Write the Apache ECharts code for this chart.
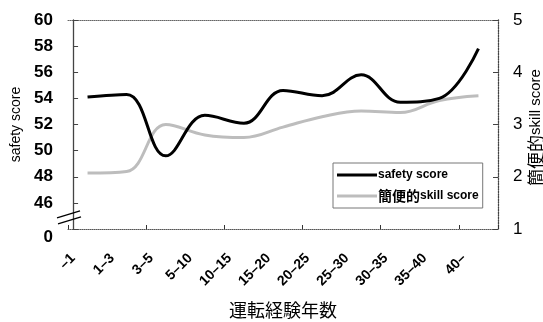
<!DOCTYPE html>
<html>
<head>
<meta charset="utf-8">
<script src="https://cdn.jsdelivr.net/npm/echarts@6/dist/echarts.min.js"></script>
<style>html,body{margin:0;padding:0;background:#fff}#c{width:543px;height:322px}</style>
</head>
<body>
<div id="c"></div>
<script>
const categories = ['–1', '1–3', '3–5', '5–10', '10–15', '15–20', '20–25', '25–30', '30–35', '35–40', '40–'];
const safetyScore = [54.1, 54.3, 49.6, 52.7, 52.1, 54.6, 54.2, 55.8, 53.7, 54.0, 57.8];
const skillScore = [2.07, 2.1, 3.0, 2.8, 2.75, 2.95, 3.15, 3.26, 3.23, 3.46, 3.55];
const leftTicks = [44, 46, 48, 50, 52, 54, 56, 58, 60];
const rightTicks = [1, 2, 3, 4, 5];
const labelPositions = categories.map((c, i) => i);

const FONT = '"Liberation Sans", Arial, "Noto Sans CJK JP", sans-serif';
const CJK = '"Noto Sans CJK JP", sans-serif';
const chart = echarts.init(document.getElementById('c'), null, {renderer: 'canvas'});
chart.setOption({
  animation: false,
  backgroundColor: '#fff',
  textStyle: {fontFamily: FONT, color: '#000'},
  grid: {left: 68, right: 45, top: 20, bottom: 93, containLabel: false, outerBoundsMode: 'none'},
  legend: {
    orient: 'vertical', left: 333, top: 163,
    backgroundColor: '#fff', borderColor: '#777', borderWidth: 1,
    padding: [6, 4, 5, 4], itemGap: 8, itemWidth: 40, itemHeight: 3, icon: 'rect',
    formatter: n => n === 'safety score' ? '{e|safety score}' : '{c|簡便的}{e|skill score}',
    textStyle: {
      fontFamily: FONT, fontSize: 12, fontWeight: 'bold', color: '#000', padding: [0, 0, 0, -4],
      rich: {
        e: {fontFamily: FONT, fontSize: 12, fontWeight: 'bold', color: '#000'},
        c: {fontFamily: CJK, fontSize: 14, fontWeight: 'bold', color: '#000'}
      }
    },
    data: ['safety score', '簡便的skill score']
  },
  xAxis: [
    {
      type: 'category', data: categories, boundaryGap: true, position: 'bottom',
      axisLine: {show: true, lineStyle: {color: '#555', type: 'dotted', width: 1}},
      axisTick: {show: true, inside: true, length: 4, alignWithLabel: false, lineStyle: {color: '#333'}},
      axisLabel: {show: false}, splitLine: {show: false}
    },
    {
      type: 'value', min: -0.13, max: 10.87, position: 'bottom',
      axisLine: {show: false}, axisTick: {show: false}, splitLine: {show: false},
      axisLabel: {
        show: true, customValues: labelPositions, rotate: 45, margin: 27,
        fontFamily: FONT, fontSize: 14, fontWeight: 'bold', color: '#000',
        formatter: v => categories[Math.round(v)] || ''
      },
      name: '運転経験年数', nameLocation: 'middle', nameGap: 72,
      nameTextStyle: {fontFamily: CJK, fontSize: 18, color: '#000'}
    },
    {
      type: 'category', data: categories, position: 'top',
      axisLine: {show: true, lineStyle: {color: '#666', type: 'dotted'}},
      axisTick: {show: false}, axisLabel: {show: false}
    }
  ],
  yAxis: [
    {
      type: 'value', min: 44, max: 60, interval: 2, position: 'left',
      axisLine: {show: true, lineStyle: {color: '#444', width: 1.3}},
      axisTick: {show: true, inside: true, length: 5, lineStyle: {color: '#444'}},
      splitLine: {show: false},
      axisLabel: {
        margin: 15, fontFamily: FONT, fontSize: 17, fontWeight: 'bold', color: '#000',
        formatter: v => v === 44 ? '{z|0}' : String(v),
        rich: {z: {fontFamily: FONT, fontSize: 17, fontWeight: 'bold', color: '#000', padding: [16, 0, 0, 0]}}
      },
      name: 'safety score', nameLocation: 'middle', nameGap: 44, nameRotate: 90,
      nameTextStyle: {fontFamily: FONT, fontSize: 14, color: '#000'}
    },
    {
      type: 'value', min: 1, max: 5, interval: 1, position: 'right',
      axisLine: {show: true, lineStyle: {color: '#444', type: 'dotted', width: 1.3}},
      axisTick: {show: true, inside: true, length: 5, lineStyle: {color: '#444'}},
      splitLine: {show: false},
      axisLabel: {margin: 15, fontFamily: FONT, fontSize: 17, color: '#000'}
    }
  ],
  series: [
    {
      name: 'safety score', type: 'line', xAxisIndex: 0, yAxisIndex: 0,
      data: safetyScore, smooth: 0.4, symbol: 'none',
      lineStyle: {color: '#000', width: 3}, itemStyle: {color: '#000'}, z: 3
    },
    {
      name: '簡便的skill score', type: 'line', xAxisIndex: 0, yAxisIndex: 1,
      data: skillScore, smooth: 0.4, symbol: 'none',
      lineStyle: {color: '#bdbdbd', width: 3}, itemStyle: {color: '#bdbdbd'}, z: 2
    }
  ]
});

// axis break decoration on the left axis, and the right axis title
const ax = chart.convertToPixel({yAxisIndex: 0}, 45.0);
const x0 = chart.convertToPixel({xAxisIndex: 1}, -0.13);
const xr = chart.convertToPixel({xAxisIndex: 1}, 10.87);
const ymid = (chart.convertToPixel({yAxisIndex: 1}, 1) + chart.convertToPixel({yAxisIndex: 1}, 5)) / 2;
chart.setOption({
  graphic: [
    {type: 'rect', shape: {x: x0 - 4, y: ax - 3, width: 8, height: 9}, style: {fill: '#fff'}, z: 100},
    {type: 'line', shape: {x1: x0 - 11, y1: ax + 2, x2: x0 + 12, y2: ax - 5}, style: {stroke: '#000', lineWidth: 1.3}, z: 101},
    {type: 'line', shape: {x1: x0 - 10, y1: ax + 8, x2: x0 + 13, y2: ax + 1}, style: {stroke: '#000', lineWidth: 1.3}, z: 101},
    {
      type: 'text', x: xr + 38, y: ymid + 3, rotation: Math.PI / 2, z: 101,
      style: {
        text: '{c|簡便的}{e|skill score}', align: 'center', verticalAlign: 'middle', fill: '#000',
        rich: {
          c: {fontFamily: CJK, fontSize: 17, fill: '#000'},
          e: {fontFamily: FONT, fontSize: 15, fill: '#000'}
        }
      }
    }
  ]
});
</script>
</body>
</html>
